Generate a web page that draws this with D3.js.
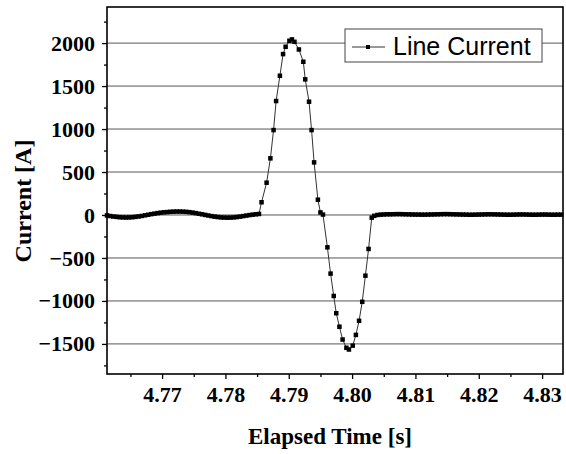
<!DOCTYPE html>
<html>
<head>
<meta charset="utf-8">
<script src="https://cdn.jsdelivr.net/npm/d3@7"></script>
<style>
  html, body { margin: 0; padding: 0; background: #fff; }
</style>
</head>
<body>
<div class="canvas"></div>
<script>
// samples before the pulse [s] / [A]
const preTime = [4.7613, 4.7618, 4.7623, 4.7628, 4.7633, 4.7638, 4.7643, 4.7648, 4.7653, 4.7658,
  4.7663, 4.7668, 4.7673, 4.7678, 4.7683, 4.7688, 4.7693, 4.7698, 4.7703, 4.7708,
  4.7713, 4.7718, 4.7723, 4.7728, 4.7733, 4.7738, 4.7743, 4.7748, 4.7753, 4.7758,
  4.7763, 4.7768, 4.7773, 4.7778, 4.7783, 4.7788, 4.7793, 4.7798, 4.7803, 4.7808,
  4.7813, 4.7818, 4.7823, 4.7828, 4.7833, 4.7838, 4.7843, 4.7848, 4.7853];
const preCurrent = [-5, -12, -18, -22, -26, -28, -29, -28, -26, -22,
  -17, -11, -4, 3, 10, 16, 22, 27, 31, 34,
  37, 39, 40, 40, 39, 37, 33, 28, 22, 15,
  8, 1, -6, -13, -19, -24, -28, -30, -31, -30,
  -28, -24, -19, -13, -7, -1, 4, 8, 12];

// the pulse itself
const pulseTime = [4.7857, 4.7865, 4.7871, 4.7876, 4.7880, 4.7886, 4.7891, 4.7895, 4.7901, 4.7905,
  4.7909, 4.7916, 4.7923, 4.7926, 4.7932, 4.7936, 4.7940, 4.7946, 4.7950, 4.7954,
  4.7961, 4.7966, 4.7971, 4.7975, 4.7980, 4.7985, 4.7991, 4.7995, 4.8001, 4.8006,
  4.8011, 4.8016, 4.8021, 4.8026, 4.8031];
const pulseCurrent = [148, 376, 659, 988, 1326, 1620, 1872, 1957, 2027, 2043,
  2015, 1926, 1783, 1578, 1318, 988, 612, 178, 30, 5,
  -376, -682, -942, -1143, -1300, -1449, -1545, -1565, -1520, -1395,
  -1231, -1010, -706, -395, -31];

// samples after the pulse
const postTime = [4.8035, 4.8040, 4.8045, 4.8050, 4.8055, 4.8060, 4.8065, 4.8070, 4.8075, 4.8080,
  4.8085, 4.8090, 4.8095, 4.8100, 4.8105, 4.8110, 4.8115, 4.8120, 4.8125, 4.8130,
  4.8135, 4.8140, 4.8145, 4.8150, 4.8155, 4.8160, 4.8165, 4.8170, 4.8175, 4.8180,
  4.8185, 4.8190, 4.8195, 4.8200, 4.8205, 4.8210, 4.8215, 4.8220, 4.8225, 4.8230,
  4.8235, 4.8240, 4.8245, 4.8250, 4.8255, 4.8260, 4.8265, 4.8270, 4.8275, 4.8280,
  4.8285, 4.8290, 4.8295, 4.8300, 4.8305, 4.8310, 4.8315, 4.8320, 4.8325, 4.8330];
const postCurrent = [-10, 0, 4, 6, 8, 8, 9, 10, 10, 9,
  8, 7, 6, 5, 5, 4, 4, 5, 6, 7,
  8, 9, 10, 10, 9, 8, 7, 6, 5, 4,
  3, 3, 4, 5, 6, 7, 8, 8, 7, 6,
  5, 4, 3, 3, 4, 5, 6, 6, 5, 4,
  3, 3, 4, 5, 5, 4, 3, 3, 4, 4];

const xTicks = [4.77, 4.78, 4.79, 4.80, 4.81, 4.82, 4.83];
const yTicks = [-1500, -1000, -500, 0, 500, 1000, 1500, 2000];
const seriesName = "Line Current";

const timeS = preTime.concat(pulseTime, postTime);
const currentA = preCurrent.concat(pulseCurrent, postCurrent);
const points = timeS.map((t, i) => ({ t, v: currentA[i] }));

const W = 566, H = 454;
const plot = { left: 107, right: 563, top: 7, bottom: 374 };
const serif = "'Liberation Serif', 'Times New Roman', Times, serif";

const svg = d3.select(".canvas").append("svg")
  .attr("width", W)
  .attr("height", H);

const x = d3.scaleLinear()
  .domain([4.7613, 4.8333])
  .range([plot.left, plot.right]);

const y = d3.scaleLinear()
  .domain([-1850, 2420])
  .range([plot.bottom, plot.top]);

// horizontal grid
svg.append("g")
  .selectAll("line")
  .data(yTicks)
  .join("line")
  .attr("x1", plot.left)
  .attr("x2", plot.right)
  .attr("y1", d => y(d))
  .attr("y2", d => y(d))
  .attr("stroke", "#444")
  .attr("stroke-width", 0.9);

// minor ticks
const yMinor = d3.range(-1750, 2400, 500);
const xMinor = d3.range(4.765, 4.834, 0.01);

svg.append("g")
  .attr("transform", `translate(${plot.left},0)`)
  .call(d3.axisLeft(y).tickValues(yMinor).tickSize(3).tickFormat(""))
  .call(g => g.select(".domain").remove());

svg.append("g")
  .attr("transform", `translate(0,${plot.bottom})`)
  .call(d3.axisBottom(x).tickValues(xMinor).tickSize(3).tickFormat(""))
  .call(g => g.select(".domain").remove());

// major axes
const yAxis = svg.append("g")
  .attr("transform", `translate(${plot.left},0)`)
  .call(d3.axisLeft(y).tickValues(yTicks).tickSize(5).tickSizeOuter(0).tickPadding(7).tickFormat(d3.format("d")));

const xAxis = svg.append("g")
  .attr("transform", `translate(0,${plot.bottom})`)
  .call(d3.axisBottom(x).tickValues(xTicks).tickSize(5).tickSizeOuter(0).tickPadding(7).tickFormat(d3.format(".2f")));

[yAxis, xAxis].forEach(g => {
  g.attr("font-family", serif)
    .attr("font-size", 22)
    .attr("font-weight", "bold");
  g.select(".domain").remove();
  g.selectAll("text").attr("fill", "#000");
});
svg.selectAll(".tick line").attr("stroke", "#000").attr("stroke-width", 1.3);

// series
svg.append("path")
  .datum(points)
  .attr("fill", "none")
  .attr("stroke", "#333")
  .attr("stroke-width", 1)
  .attr("d", d3.line().x(d => x(d.t)).y(d => y(d.v)));

svg.append("g")
  .selectAll("rect")
  .data(points)
  .join("rect")
  .attr("x", d => x(d.t) - 2.25)
  .attr("y", d => y(d.v) - 2.25)
  .attr("width", 4.5)
  .attr("height", 4.5)
  .attr("fill", "#000");

// frame
svg.append("rect")
  .attr("x", plot.left)
  .attr("y", plot.top)
  .attr("width", plot.right - plot.left)
  .attr("height", plot.bottom - plot.top)
  .attr("fill", "none")
  .attr("stroke", "#000")
  .attr("stroke-width", 1.6);

// legend
const legend = svg.append("g");
legend.append("rect")
  .attr("x", 345)
  .attr("y", 29)
  .attr("width", 197)
  .attr("height", 33)
  .attr("fill", "#fff")
  .attr("stroke", "#444")
  .attr("stroke-width", 1);
legend.append("line")
  .attr("x1", 352)
  .attr("x2", 385)
  .attr("y1", 47)
  .attr("y2", 47)
  .attr("stroke", "#333")
  .attr("stroke-width", 1);
legend.append("rect")
  .attr("x", 366)
  .attr("y", 45)
  .attr("width", 4)
  .attr("height", 4)
  .attr("fill", "#000");
legend.append("text")
  .attr("x", 393)
  .attr("y", 55)
  .attr("fill", "#000")
  .style("font-family", "'Liberation Sans', Arial, sans-serif")
  .style("font-size", "25px")
  .text(seriesName);

// axis titles
svg.append("text")
  .attr("x", (plot.left + plot.right) / 2 - 5)
  .attr("y", 444)
  .attr("text-anchor", "middle")
  .attr("fill", "#000")
  .attr("font-family", serif)
  .attr("font-weight", "bold")
  .attr("font-size", 23)
  .text("Elapsed Time [s]");

svg.append("text")
  .attr("transform", "translate(31,201) rotate(-90)")
  .attr("text-anchor", "middle")
  .attr("fill", "#000")
  .attr("font-family", serif)
  .attr("font-weight", "bold")
  .attr("font-size", 24)
  .text("Current [A]");
</script>
</body>
</html>
